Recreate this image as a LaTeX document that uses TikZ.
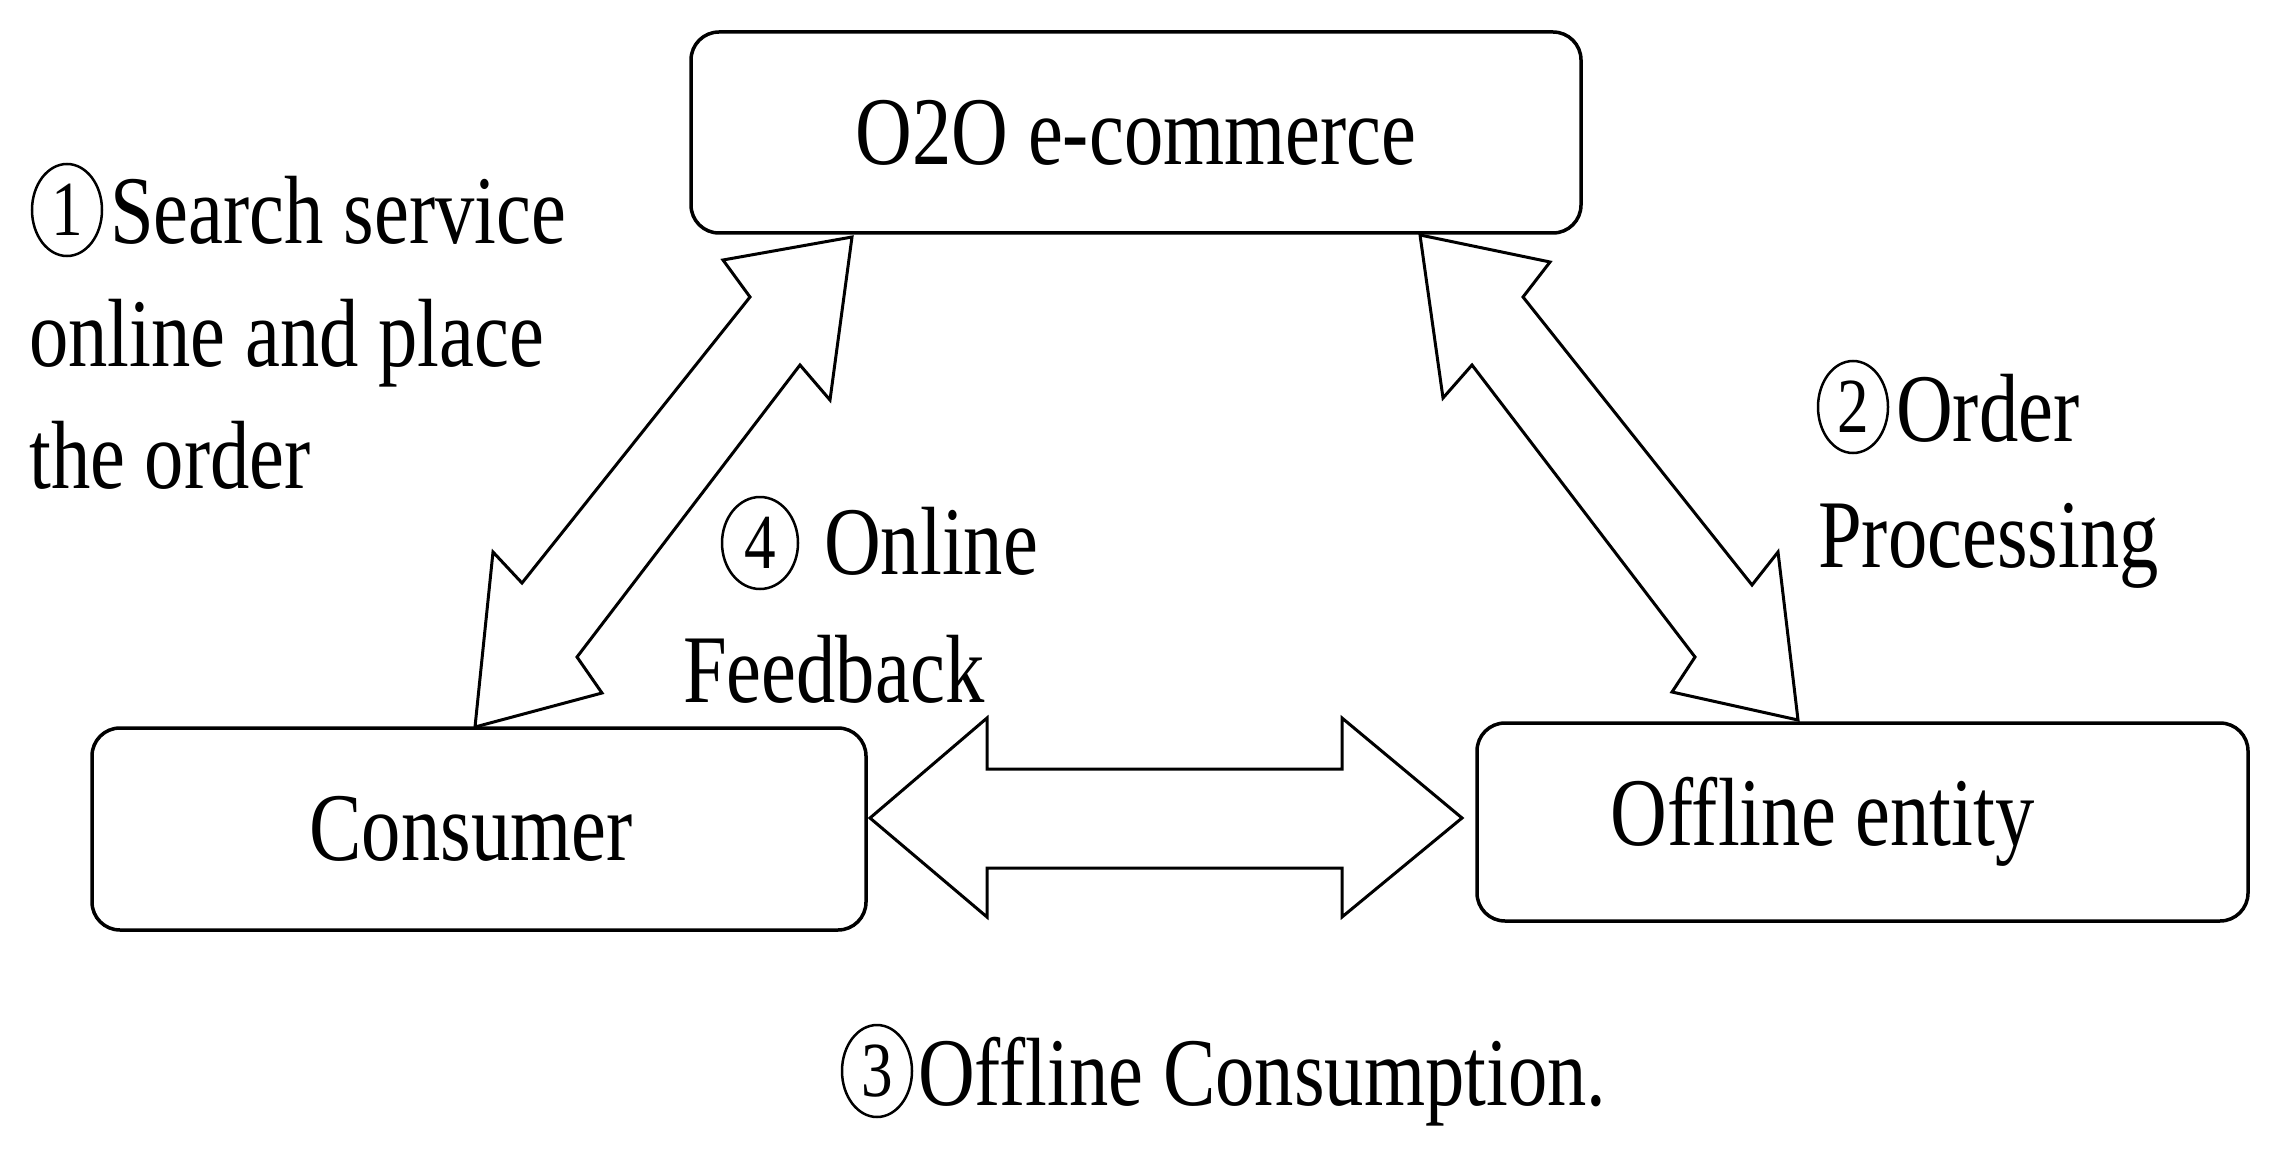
\documentclass[tikz,border=0pt]{standalone}
\usepackage{fontspec}
\usetikzlibrary{shapes.geometric}
\setmainfont{Liberation Serif}[FakeStretch=0.81]
\begin{document}
\begin{tikzpicture}[x=1pt,y=-1pt,
  txt/.style={font=\fontsize{97}{125}\selectfont, text=black, inner sep=0pt},
  box/.style={draw=black, line width=3.5pt, rounded corners=28pt, fill=white, txt},
  lbl/.style={txt, anchor=base west},
  cnode/.style={draw=black, ellipse, line width=2.5pt, minimum width=70pt, minimum height=92pt,
    inner sep=0pt, text=black, font=\fontsize{78}{80}\selectfont},
  blockarrow/.style={draw=black, line width=3pt, line join=miter, fill=white}]
\useasboundingbox (0,0) rectangle (2280,1166);
\fill[white] (0,0) rectangle (2280,1166);

% boxes
\node[box, minimum width=890pt, minimum height=201pt] (ecom) at (1136,132.5) {O2O e-commerce};
\node[box, minimum width=774pt, minimum height=202pt] (cons) at (479,829) {\hspace*{-16pt}Consumer};
\node[box, minimum width=771pt, minimum height=198pt] (off) at (1862.5,822) {\hspace*{-80pt}Offline entity};

% left diagonal double block arrow (consumer <-> e-commerce)
\draw[blockarrow] (852,237) -- (830,400) -- (800,365) -- (577,657) -- (602,693)
  -- (475,727) -- (493,552) -- (522,583) -- (750,297) -- (723,260) -- cycle;
% right diagonal double block arrow (e-commerce <-> offline entity)
\draw[blockarrow] (1420,235) -- (1550,262) -- (1523,297) -- (1752,585) -- (1778,552)
  -- (1798,720) -- (1672,692) -- (1695,657) -- (1472,365) -- (1443,398) -- cycle;
% horizontal double block arrow (consumer <-> offline entity)
\draw[blockarrow] (870,818) -- (987,718) -- (987,769) -- (1342,769) -- (1342,718)
  -- (1462,818) -- (1342,917) -- (1342,868) -- (987,868) -- (987,917) -- cycle;

% labels
\node[cnode] (c1) at (67,210) {1};
\node[lbl] (l1a) at (110,244) {Search service};
\node[lbl] (l1b) at (29,366) {online and place};
\node[lbl] (l1c) at (29,488) {the order};

\node[cnode] (c2) at (1853,407) {2};
\node[lbl] (l2a) at (1896,441) {Order};
\node[lbl] (l2b) at (1818,567) {Processing};

\node[cnode, minimum width=76pt] (c4) at (760,543) {4};
\node[lbl] (l4a) at (824,574) {Online};
\node[lbl] (l4b) at (683,702) {Feedback};

\node[cnode] (c3) at (877,1071) {3};
\node[lbl] (l3) at (918,1105) {Offline Consumption.};
\end{tikzpicture}
\end{document}
